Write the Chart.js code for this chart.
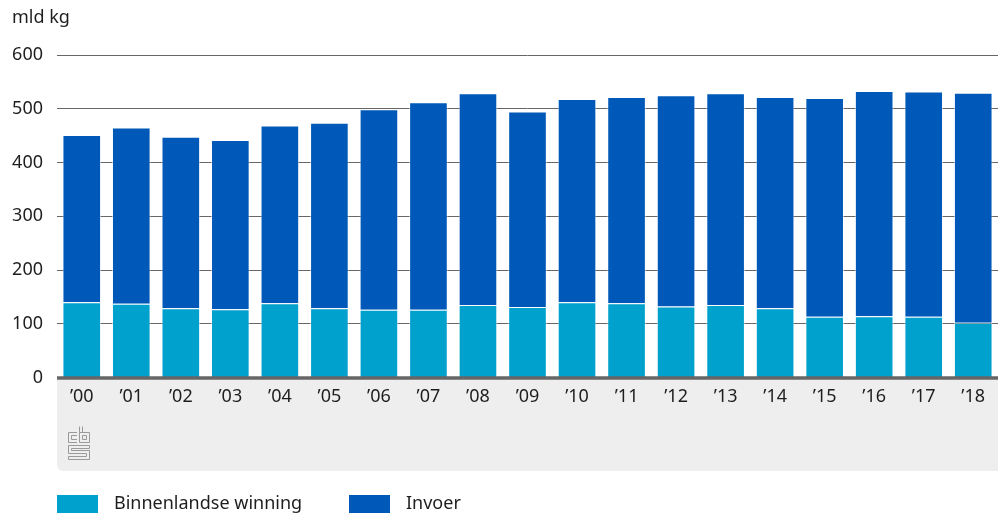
<!DOCTYPE html>
<html lang="nl">
<head>
<meta charset="utf-8">
<title>Aardgas: binnenlandse winning en invoer</title>
<script src="https://cdn.jsdelivr.net/npm/chart.js@4/dist/chart.umd.min.js"></script>
<style>
    html, body { margin: 0; padding: 0; background: #fff; }
    #wrap { position: relative; width: 998px; height: 513px; overflow: hidden; }
</style>
</head>
<body>
<div id="wrap"><canvas id="chart" width="998" height="513"></canvas></div>
<script>
// Gas supply, billion kg per year
const years = ['’00', '’01', '’02', '’03', '’04', '’05', '’06', '’07', '’08', '’09',
               '’10', '’11', '’12', '’13', '’14', '’15', '’16', '’17', '’18'];
const winning = [140, 137, 129, 127, 138, 129, 126, 126, 135, 131, 140, 138, 132, 135, 129, 113, 114, 113, 102];
const invoer = [311, 328, 319, 315, 331, 345, 373, 386, 394, 364, 378, 384, 393, 394, 393, 407, 419, 419, 428];
const seriesNames = ['Binnenlandse winning', 'Invoer'];
const yTicks = [0, 100, 200, 300, 400, 500, 600];
const unitLabel = 'mld kg';

const LIGHT = '#00a1cd';
const DARK = '#0058b8';
const FONT = "'Noto Sans', sans-serif";

// Grey footer band under the axis, the cbs mark, unit label and legend
const decor = {
    id: 'decor',
    beforeDraw(chart) {
        const { ctx, chartArea: a } = chart;
        ctx.save();
        ctx.fillStyle = '#eeeeee';
        ctx.beginPath();
        ctx.roundRect(a.left, a.bottom, chart.width - a.left + 2, 471 - a.bottom, [0, 0, 0, 6]);
        ctx.fill();
        ctx.restore();
    },
    afterDraw(chart) {
        const { ctx, chartArea: a } = chart;
        ctx.save();
        // zero line
        ctx.strokeStyle = '#666';
        ctx.lineWidth = 3.5;
        ctx.beginPath();
        ctx.moveTo(a.left, a.bottom + 0.5);
        ctx.lineTo(chart.width, a.bottom + 0.5);
        ctx.stroke();

        // cbs mark
        ctx.strokeStyle = '#9a9a9a';
        ctx.lineWidth = 1;
        const lx = 68.5, ly = 426.5;
        ctx.beginPath();
        // c
        ctx.moveTo(77, ly + 6); ctx.lineTo(lx, ly + 6); ctx.lineTo(lx, ly + 16); ctx.lineTo(77, ly + 16);
        ctx.moveTo(77, ly + 9); ctx.lineTo(lx + 3, ly + 9); ctx.lineTo(lx + 3, ly + 13); ctx.lineTo(77, ly + 13);
        // b
        ctx.rect(79.5, ly + 6, 10, 10);
        ctx.moveTo(79.5, ly); ctx.lineTo(79.5, ly + 6);
        ctx.moveTo(82.5, ly); ctx.lineTo(82.5, ly + 6);
        ctx.rect(82.5, ly + 9, 4, 4);
        // s
        ctx.moveTo(89.5, ly + 19); ctx.lineTo(lx, ly + 19); ctx.lineTo(lx, ly + 27); ctx.lineTo(86.5, ly + 27);
        ctx.lineTo(86.5, ly + 30); ctx.lineTo(lx, ly + 30); ctx.lineTo(lx, ly + 33); ctx.lineTo(89.5, ly + 33);
        ctx.lineTo(89.5, ly + 24); ctx.lineTo(lx + 3, ly + 24); ctx.lineTo(lx + 3, ly + 22); ctx.lineTo(89.5, ly + 22);
        ctx.closePath();
        ctx.stroke();

        // unit label
        ctx.fillStyle = '#1e1e1e';
        ctx.font = '18px ' + FONT;
        ctx.textBaseline = 'middle';
        ctx.textAlign = 'left';
        ctx.fillText(unitLabel, 12, 18);

        // legend
        const items = [
            { x: 57, color: LIGHT, text: seriesNames[0] },
            { x: 349, color: DARK, text: seriesNames[1] }
        ];
        ctx.font = '18px ' + FONT;
        items.forEach(it => {
            ctx.fillStyle = it.color;
            ctx.fillRect(it.x, 495, 41, 20);
            ctx.fillStyle = '#1e1e1e';
            ctx.fillText(it.text, it.x + 57, 504);
        });
        ctx.restore();
    }
};

new Chart(document.getElementById('chart'), {
    type: 'bar',
    data: {
        labels: years,
        datasets: [
            {
                label: seriesNames[0],
                data: winning,
                backgroundColor: LIGHT,
                borderColor: 'rgba(255,255,255,0.55)',
                borderWidth: 1,
                borderSkipped: 'start'
            },
            {
                label: seriesNames[1],
                data: invoer,
                backgroundColor: DARK,
                borderColor: 'rgba(255,255,255,0.55)',
                borderWidth: 1,
                borderSkipped: 'start'
            }
        ]
    },
    options: {
        responsive: false,
        animation: false,
        layout: { padding: { top: 55, right: 0, bottom: 0, left: 0 } },
        datasets: { bar: { categoryPercentage: 1, barPercentage: 0.78 } },
        plugins: {
            legend: { display: false },
            tooltip: { enabled: false }
        },
        scales: {
            x: {
                stacked: true,
                grid: { display: false, drawTicks: false },
                border: { display: false },
                ticks: {
                    color: '#1e1e1e',
                    font: { family: FONT, size: 18 },
                    padding: 9,
                    maxRotation: 0,
                    autoSkip: false
                },
                afterFit(scale) { scale.height = 513 - 55 - 322.5; }
            },
            y: {
                stacked: true,
                min: 0,
                max: 600,
                grid: { color: '#666', lineWidth: 1, drawTicks: false },
                border: { display: false },
                afterBuildTicks(scale) { scale.ticks = yTicks.map(v => ({ value: v })); },
                ticks: {
                    color: '#1e1e1e',
                    font: { family: FONT, size: 18 },
                    padding: 14
                },
                afterFit(scale) { scale.width = 57; }
            }
        }
    },
    plugins: [decor]
});
</script>
</body>
</html>
